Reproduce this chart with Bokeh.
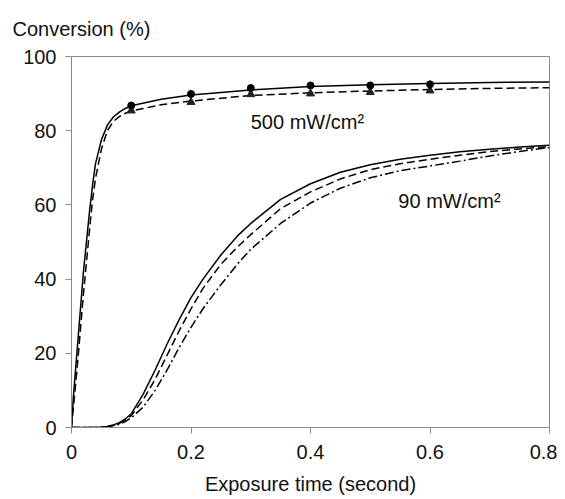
from bokeh.plotting import figure
from bokeh.models import Range1d, FixedTicker
from bokeh.core.properties import value
from bokeh.embed import file_html
from bokeh.resources import INLINE

# ---- data ----
t_500 = [0, 0.003, 0.01, 0.02, 0.03, 0.035, 0.04, 0.05, 0.06, 0.07, 0.08, 0.09, 0.1,
         0.15, 0.2, 0.3, 0.4, 0.5, 0.6, 0.7, 0.8]
solid_500 = [0, 8, 22, 42, 58, 65, 71, 77.5, 81.5, 83.7, 85, 86, 86.7,
             88.5, 89.6, 91, 91.9, 92.4, 92.7, 93, 93.1]
dashed_500 = [0, 5, 17, 36, 53, 61, 67, 75, 80, 82.5, 83.8, 84.7, 85.3,
              87, 88, 89.5, 90.2, 90.7, 91.1, 91.4, 91.6]

t_meas = [0.1, 0.2, 0.3, 0.4, 0.5, 0.6]
circles_500 = [86.8, 89.9, 91.5, 92.2, 92.2, 92.5]
triangles_500 = [85.4, 87.7, 89.8, 90.0, 90.4, 90.8]

t_90 = [0, 0.02, 0.04, 0.05, 0.06, 0.07, 0.08, 0.09, 0.1, 0.12, 0.14, 0.16, 0.18, 0.2,
        0.22, 0.25, 0.28, 0.3, 0.35, 0.4, 0.45, 0.5, 0.55, 0.6, 0.65, 0.7, 0.75, 0.8]
solid_90 = [0, 0, 0, 0.1, 0.3, 0.7, 1.3, 2.3, 3.7, 9, 15.5, 22.5, 29, 35,
            40, 46.5, 52, 55, 61.5, 65.7, 68.8, 70.8, 72.3, 73.4, 74.3, 75, 75.6, 76.1]
dashed_90 = [0, 0, 0, 0.1, 0.3, 0.6, 1.1, 2, 3.2, 7.5, 13, 19.5, 26, 32,
             37.5, 44, 49, 52, 59, 63.5, 67, 69.5, 71.1, 72.3, 73.4, 74.4, 75.1, 75.7]
dashdot_90 = [0, 0, 0, 0.1, 0.2, 0.5, 0.9, 1.6, 2.6, 5.5, 10, 15.5, 21.5, 27,
              32, 38.5, 44.5, 48, 55, 60.5, 64.5, 67.3, 69.2, 70.5, 71.8, 73.2, 74.4, 75.5]

x_ticks = [0, 0.2, 0.4, 0.6, 0.8]
x_tick_labels = ["0", "0.2", "0.4", "0.6", "0.8"]
y_ticks = [0, 20, 40, 60, 80, 100]

FONT = "Liberation Sans"
FS = "20px"
GRAY = "#8c8c8c"

p = figure(width=557, height=499, output_backend="svg", toolbar_location=None,
           x_range=Range1d(0, 0.8), y_range=Range1d(0, 100),
           min_border_left=71, min_border_right=8, min_border_top=56, min_border_bottom=72,
           title="Conversion (%)")

p.title.text_font = FONT
p.title.text_font_size = FS
p.title.text_font_style = "normal"
p.title.text_color = "#111111"
p.title.align = "left"
p.title.vertical_align = "top"
p.title.offset = -59
p.title.standoff = 30

p.xgrid.visible = False
p.ygrid.visible = False
p.outline_line_color = GRAY
p.outline_line_width = 1
p.background_fill_color = "white"
p.border_fill_color = "white"

for ax in (p.xaxis[0], p.yaxis[0]):
    ax.axis_line_color = GRAY
    ax.major_tick_line_color = GRAY
    ax.major_tick_out = 6
    ax.major_tick_in = 0
    ax.minor_tick_line_color = None
    ax.major_label_text_font = FONT
    ax.major_label_text_font_size = FS
    ax.major_label_text_color = "#111111"
    ax.axis_label_text_font = FONT
    ax.axis_label_text_font_size = FS
    ax.axis_label_text_font_style = "normal"
    ax.axis_label_text_color = "#111111"

p.xaxis.ticker = FixedTicker(ticks=x_ticks)
p.xaxis.major_label_overrides = {tk: lb for tk, lb in zip(x_ticks, x_tick_labels)}
p.xaxis.major_label_standoff = 11
p.xaxis.axis_label = "Exposure time (second)"
p.xaxis.axis_label_standoff = 11
p.yaxis.ticker = FixedTicker(ticks=y_ticks)
p.yaxis.major_label_standoff = 9

LW = 1.5
p.line(t_500, solid_500, line_color="black", line_width=LW)
p.line(t_500, dashed_500, line_color="black", line_width=LW, line_dash="8 4")
p.line(t_90, solid_90, line_color="black", line_width=LW)
p.line(t_90, dashed_90, line_color="black", line_width=LW, line_dash="8 4")
p.line(t_90, dashdot_90, line_color="black", line_width=LW, line_dash="9 3 2 3")

p.scatter(t_meas, triangles_500, marker="triangle", size=8, fill_color="#222222", line_color="#222222")
p.scatter(t_meas, circles_500, marker="circle", size=7, fill_color="black", line_color="black")

p.text(x=[0.3], y=[82.3], text=["500 mW/cm²"], text_font=value(FONT), text_font_size=FS,
       text_baseline="middle", text_align="left", text_color="#111111")
p.text(x=[0.547], y=[61], text=["90 mW/cm²"], text_font=value(FONT), text_font_size=FS,
       text_baseline="middle", text_align="left", text_color="#111111")

open("out.html", "w").write(file_html(p, INLINE))
